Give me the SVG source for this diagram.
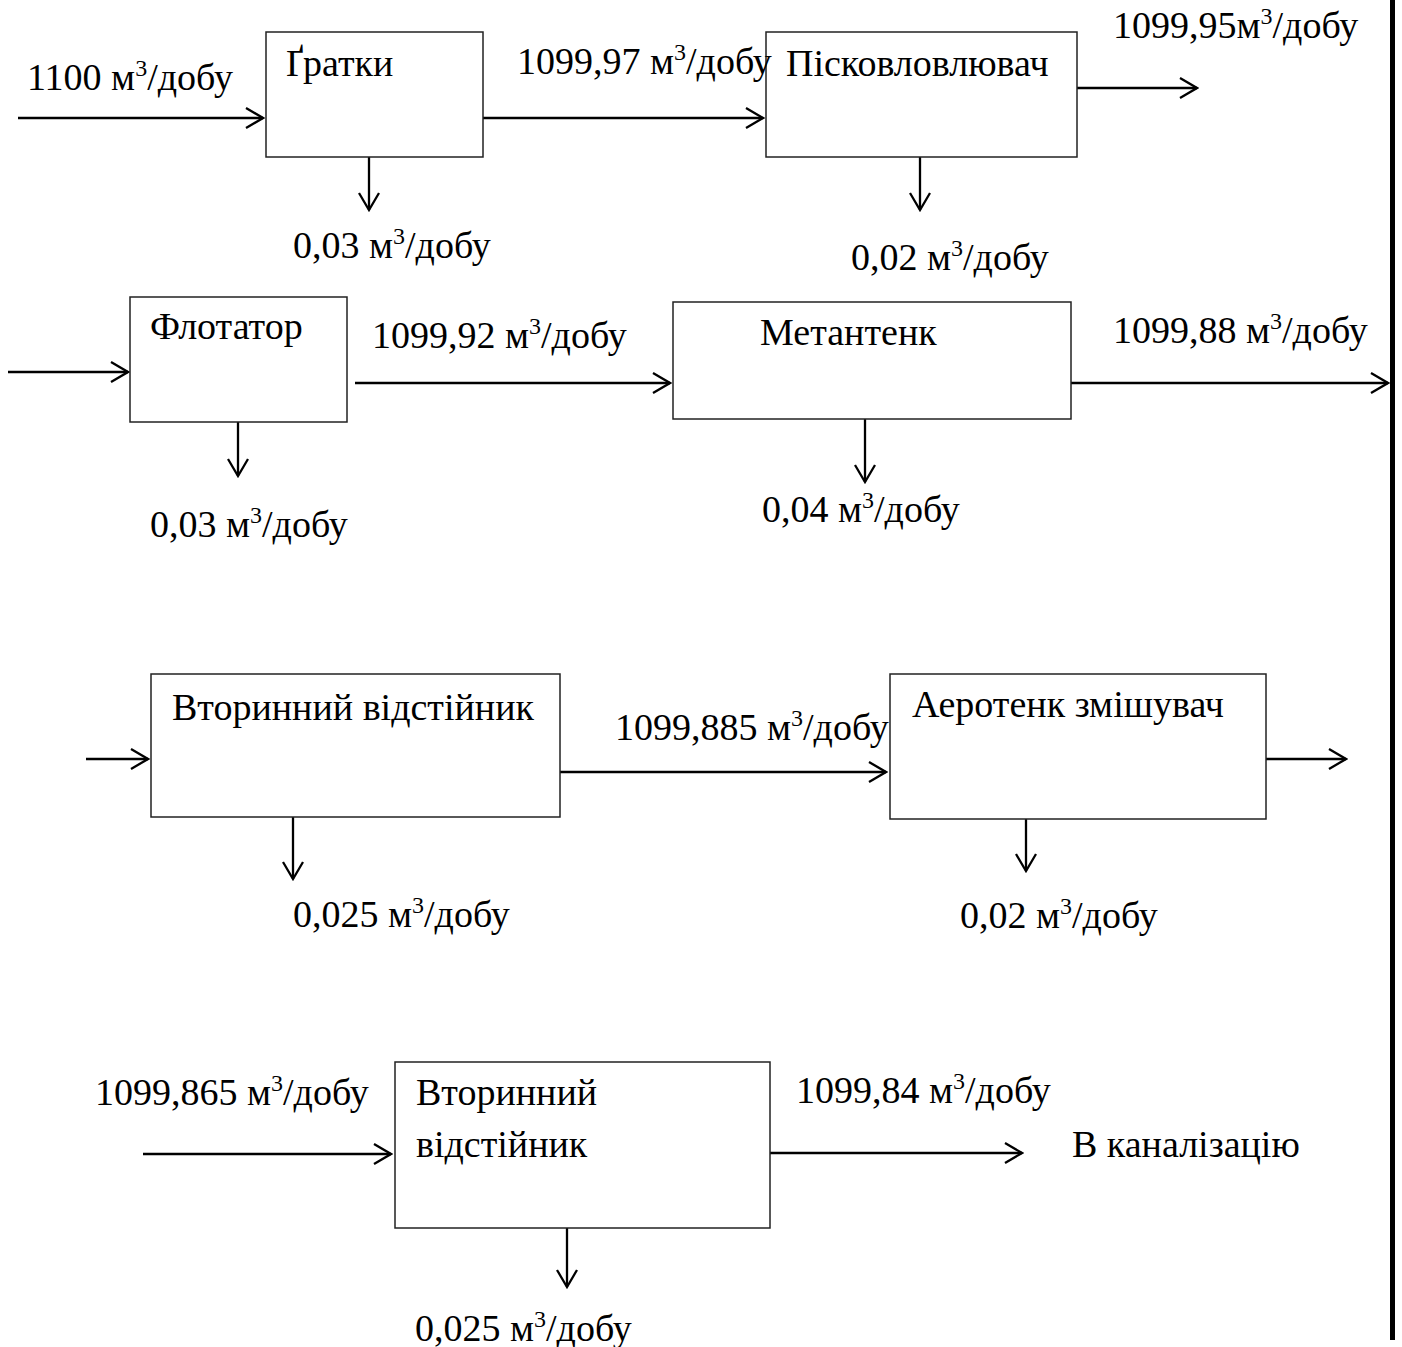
<svg xmlns="http://www.w3.org/2000/svg" width="1402" height="1347" viewBox="0 0 1402 1347">
<style>
text{font-family:"Liberation Serif","Times New Roman",serif;font-size:38px;fill:#000;}
.box{fill:#fff;stroke:#222;stroke-width:1.5;}
.ar{stroke:#000;stroke-width:2.3;fill:none;marker-end:url(#ah);}
.sup{font-size:24px;}
</style>
<defs>
<marker id="ah" markerUnits="userSpaceOnUse" viewBox="-20 -12 22 24" markerWidth="22" markerHeight="24" refX="0" refY="0" orient="auto">
<path d="M-17,-10 L0,0 L-17,10" fill="none" stroke="#000" stroke-width="2.3"/>
</marker>
</defs>
<rect width="1402" height="1347" fill="#fff"/>

<g id="connectors">
<line class="ar" x1="18" y1="118" x2="263" y2="118"/>
<line class="ar" x1="479" y1="118" x2="763" y2="118"/>
<line class="ar" x1="1077" y1="88" x2="1197" y2="88"/>
<line class="ar" x1="369" y1="157" x2="369" y2="210"/>
<line class="ar" x1="920" y1="157" x2="920" y2="210"/>

<line class="ar" x1="8" y1="372" x2="128" y2="372"/>
<line class="ar" x1="355" y1="383" x2="670" y2="383"/>
<line class="ar" x1="1071" y1="383" x2="1388" y2="383"/>
<line class="ar" x1="238" y1="422" x2="238" y2="476"/>
<line class="ar" x1="865" y1="419" x2="865" y2="482"/>

<line class="ar" x1="86" y1="759" x2="148" y2="759"/>
<line class="ar" x1="560" y1="772" x2="886" y2="772"/>
<line class="ar" x1="1266" y1="759" x2="1346" y2="759"/>
<line class="ar" x1="293" y1="817" x2="293" y2="879"/>
<line class="ar" x1="1026" y1="819" x2="1026" y2="871"/>

<line class="ar" x1="143" y1="1154" x2="391" y2="1154"/>
<line class="ar" x1="770" y1="1153" x2="1022" y2="1153"/>
<line class="ar" x1="567" y1="1228" x2="567" y2="1287"/>
</g>

<rect x="1390" y="0" width="5" height="1340" fill="#000"/>

<g id="node-gratky">
<rect class="box" x="266" y="32" width="217" height="125"/>
<text x="286" y="76">Ґратки</text>
</g>
<g id="node-piskovlovliuvach">
<rect class="box" x="766" y="32" width="311" height="125"/>
<text x="786" y="76">Пісковловлювач</text>
</g>
<g id="node-flotator">
<rect class="box" x="130" y="297" width="217" height="125"/>
<text x="150" y="339">Флотатор</text>
</g>
<g id="node-metantenk">
<rect class="box" x="673" y="302" width="398" height="117"/>
<text x="760" y="345">Метантенк</text>
</g>
<g id="node-vidstiinyk1">
<rect class="box" x="151" y="674" width="409" height="143"/>
<text x="172" y="720">Вторинний відстійник</text>
</g>
<g id="node-aerotenk">
<rect class="box" x="890" y="674" width="376" height="145"/>
<text x="912" y="717">Аеротенк змішувач</text>
</g>
<g id="node-vidstiinyk2">
<rect class="box" x="395" y="1062" width="375" height="166"/>
<text x="416" y="1105">Вторинний</text>
<text x="416" y="1157">відстійник</text>
</g>

<g id="labels">
<text x="27" y="90">1100 м<tspan class="sup" dy="-14">3</tspan><tspan dy="14">/добу</tspan></text>
<text x="517" y="74">1099,97 м<tspan class="sup" dy="-14">3</tspan><tspan dy="14">/добу</tspan></text>
<text x="1113" y="38">1099,95м<tspan class="sup" dy="-14">3</tspan><tspan dy="14">/добу</tspan></text>
<text x="293" y="258">0,03 м<tspan class="sup" dy="-14">3</tspan><tspan dy="14">/добу</tspan></text>
<text x="851" y="270">0,02 м<tspan class="sup" dy="-14">3</tspan><tspan dy="14">/добу</tspan></text>

<text x="372" y="348">1099,92 м<tspan class="sup" dy="-14">3</tspan><tspan dy="14">/добу</tspan></text>
<text x="1113" y="343">1099,88 м<tspan class="sup" dy="-14">3</tspan><tspan dy="14">/добу</tspan></text>
<text x="150" y="537">0,03 м<tspan class="sup" dy="-14">3</tspan><tspan dy="14">/добу</tspan></text>
<text x="762" y="522">0,04 м<tspan class="sup" dy="-14">3</tspan><tspan dy="14">/добу</tspan></text>

<text x="615" y="740">1099,885 м<tspan class="sup" dy="-14">3</tspan><tspan dy="14">/добу</tspan></text>
<text x="293" y="927">0,025 м<tspan class="sup" dy="-14">3</tspan><tspan dy="14">/добу</tspan></text>
<text x="960" y="928">0,02 м<tspan class="sup" dy="-14">3</tspan><tspan dy="14">/добу</tspan></text>

<text x="95" y="1105">1099,865 м<tspan class="sup" dy="-14">3</tspan><tspan dy="14">/добу</tspan></text>
<text x="796" y="1103">1099,84 м<tspan class="sup" dy="-14">3</tspan><tspan dy="14">/добу</tspan></text>
<text x="1072" y="1157">В каналізацію</text>
<text x="415" y="1341">0,025 м<tspan class="sup" dy="-14">3</tspan><tspan dy="14">/добу</tspan></text>
</g>
</svg>
